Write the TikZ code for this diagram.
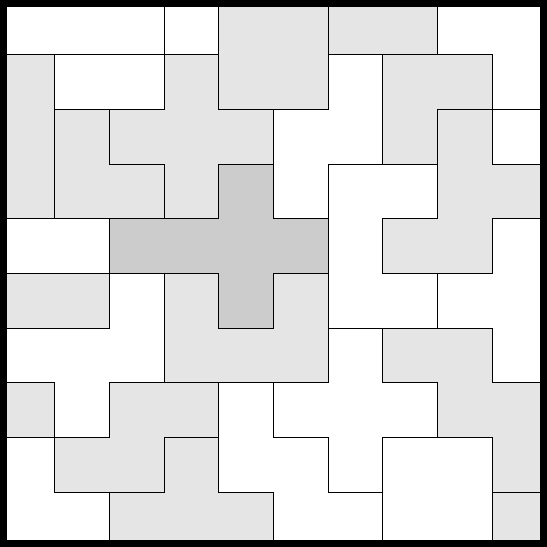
\documentclass[tikz,border=0pt]{standalone}
\usepackage{tikz}

\begin{document}
\begin{tikzpicture}[
  piece/.style={draw, line width=0.6pt, fill=white},
  shaded/.style={piece, fill=gray!20},
  centre/.style={piece, fill=gray!40},
  frame/.style={draw, line width=0.128cm}
]
\useasboundingbox (0,0) rectangle (10,10);

% top rows
\draw[piece] (0,9) rectangle (3,10);
\draw[piece] (3,9) rectangle (4,10);
\draw[shaded] (4,8) rectangle (6,10);
\draw[shaded] (6,9) rectangle (8,10);
\draw[piece] (8,9) -- (8,10) -- (10,10) -- (10,8) -- (9,8) -- (9,9) -- cycle;
\draw[shaded] (0,6) rectangle (1,9);
\draw[piece] (1,8) rectangle (3,9);
\draw[shaded] (3,9) -- (4,9) -- (4,8) -- (5,8) -- (5,7) -- (4,7) -- (4,6)
  -- (3,6) -- (3,7) -- (2,7) -- (2,8) -- (3,8) -- cycle;
\draw[piece] (6,9) -- (7,9) -- (7,7) -- (6,7) -- (6,6) -- (5,6) -- (5,8)
  -- (6,8) -- cycle;
\draw[shaded] (7,9) -- (9,9) -- (9,8) -- (8,8) -- (8,7) -- (7,7) -- cycle;
\draw[shaded] (1,8) -- (2,8) -- (2,7) -- (3,7) -- (3,6) -- (1,6) -- cycle;
\draw[piece] (9,7) rectangle (10,8);
\draw[shaded] (8,8) -- (9,8) -- (9,7) -- (10,7) -- (10,6) -- (9,6) -- (9,5)
  -- (7,5) -- (7,6) -- (8,6) -- cycle;

% middle
\draw[centre] (4,7) -- (5,7) -- (5,6) -- (6,6) -- (6,5) -- (5,5) -- (5,4)
  -- (4,4) -- (4,5) -- (2,5) -- (2,6) -- (4,6) -- cycle;
\draw[piece] (6,7) -- (8,7) -- (8,6) -- (7,6) -- (7,5) -- (8,5) -- (8,4)
  -- (6,4) -- cycle;
\draw[piece] (0,5) rectangle (2,6);
\draw[piece] (9,6) -- (10,6) -- (10,3) -- (9,3) -- (9,4) -- (8,4) -- (8,5)
  -- (9,5) -- cycle;
\draw[shaded] (0,4) rectangle (2,5);
\draw[piece] (2,5) -- (3,5) -- (3,3) -- (2,3) -- (2,2) -- (1,2) -- (1,3)
  -- (0,3) -- (0,4) -- (2,4) -- cycle;
\draw[shaded] (3,5) -- (4,5) -- (4,4) -- (5,4) -- (5,5) -- (6,5) -- (6,3)
  -- (3,3) -- cycle;

% bottom rows
\draw[piece] (6,4) -- (7,4) -- (7,3) -- (8,3) -- (8,2) -- (7,2) -- (7,1)
  -- (6,1) -- (6,2) -- (5,2) -- (5,3) -- (6,3) -- cycle;
\draw[shaded] (7,4) -- (9,4) -- (9,3) -- (10,3) -- (10,1) -- (9,1) -- (9,2)
  -- (8,2) -- (8,3) -- (7,3) -- cycle;
\draw[shaded] (0,2) rectangle (1,3);
\draw[shaded] (2,3) -- (4,3) -- (4,2) -- (3,2) -- (3,1) -- (1,1) -- (1,2)
  -- (2,2) -- cycle;
\draw[piece] (4,3) -- (5,3) -- (5,2) -- (6,2) -- (6,1) -- (7,1) -- (7,0)
  -- (5,0) -- (5,1) -- (4,1) -- cycle;
\draw[piece] (0,2) -- (1,2) -- (1,1) -- (2,1) -- (2,0) -- (0,0) -- cycle;
\draw[shaded] (3,2) -- (4,2) -- (4,1) -- (5,1) -- (5,0) -- (2,0) -- (2,1)
  -- (3,1) -- cycle;
\draw[piece] (7,0) rectangle (9,2);
\draw[shaded] (9,0) rectangle (10,1);

\draw[frame] (0.064,0.064) rectangle (9.936,9.936);
\end{tikzpicture}
\end{document}
